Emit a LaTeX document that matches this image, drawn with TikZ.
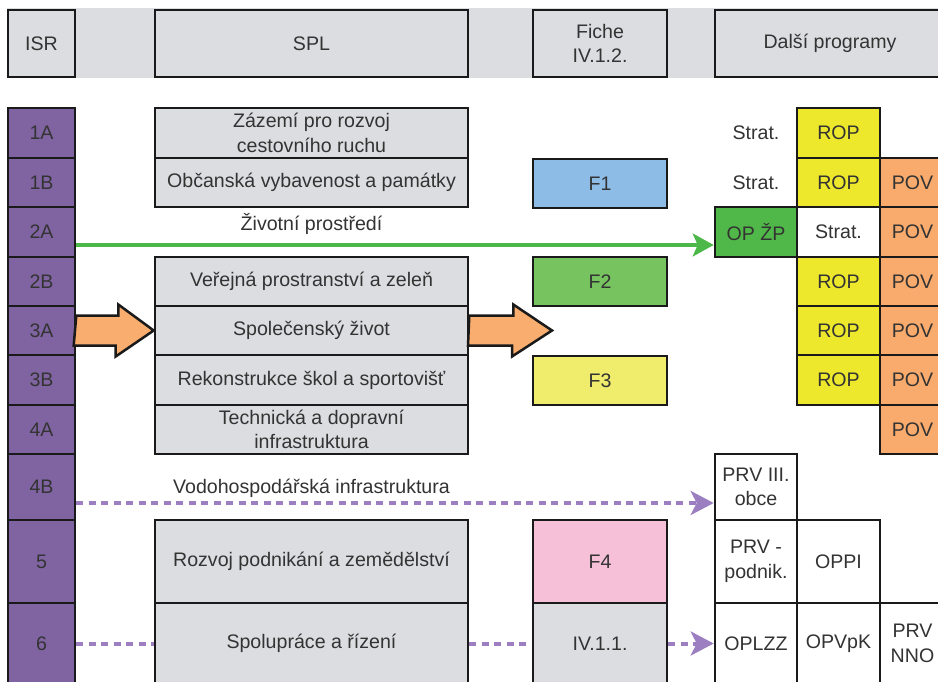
\documentclass[tikz,border=0pt]{standalone}
\usepackage{fontspec}
\setmainfont{Liberation Sans}
\usetikzlibrary{arrows.meta,calc}

\definecolor{bandgray}{HTML}{DCDDE0}
\definecolor{boxgray}{HTML}{DCDDE0}
\definecolor{edge}{HTML}{1A1A1A}
\definecolor{ink}{HTML}{333333}
\definecolor{isrpurple}{HTML}{8064A2}
\definecolor{ropyellow}{HTML}{EDE82B}
\definecolor{povorange}{HTML}{F8AB6C}
\definecolor{opzpgreen}{HTML}{50B848}
\definecolor{fblue}{HTML}{8DBDE6}
\definecolor{fgreen}{HTML}{77C360}
\definecolor{fyellow}{HTML}{F0EC6C}
\definecolor{fpink}{HTML}{F5C0D8}
\definecolor{linkgreen}{HTML}{4CB849}
\definecolor{linkpurple}{HTML}{9B7FC0}
\definecolor{blockorange}{HTML}{F9AE6F}

% cell: name, x1, y1, x2, y2, style, text
\newcommand\cellbox[7]{%
  \node[#6, minimum width={#4-#2}, minimum height={#5-#3}] (#1)
    at ({(#2+#4)/2},{(#3+#5)/2}) {#7};}

\begin{document}
\begin{tikzpicture}[x=1pt,y=-1pt,
  every node/.style={font=\fontsize{19.6}{24.5}\selectfont, text=ink, inner sep=0pt, align=center},
  cell/.style={draw=edge, line width=2.6pt, rectangle},
  hdr/.style={cell, fill=boxgray},
  isr/.style={cell, fill=isrpurple},
  spl/.style={cell, fill=boxgray},
  rop/.style={cell, fill=ropyellow},
  pov/.style={cell, fill=povorange},
  plain/.style={cell, fill=white},
  freetext/.style={},
  greenlink/.style={draw=linkgreen, line width=3pt,
    -{Stealth[length=21pt,width=23pt,inset=5pt]}},
  dotlink/.style={draw=linkpurple, line width=4pt, dash pattern=on 7pt off 5.5pt},
  dotarrow/.style={dotlink, -{Stealth[length=23pt,width=24pt,inset=6pt]}},
  blockarrow/.style={fill=blockorange, draw=edge, line width=2.5pt, line join=miter}
]
\useasboundingbox (0,0) rectangle (938,682);

% header band
\fill[bandgray] (7,8) rectangle (945,78);
\cellbox{hISR}{8}{10}{75}{77}{hdr}{ISR}
\cellbox{hSPL}{155}{10}{468}{77}{hdr}{SPL}
\cellbox{hFiche}{533}{10}{667}{77}{hdr}{Fiche\\IV.1.2.}
\cellbox{hDalsi}{715}{10}{945}{77}{hdr}{Další programy}

% ISR column
\cellbox{isr1A}{8}{108}{75}{158}{isr}{1A}
\cellbox{isr1B}{8}{158}{75}{207}{isr}{1B}
\cellbox{isr2A}{8}{207}{75}{257}{isr}{2A}
\cellbox{isr2B}{8}{257}{75}{306}{isr}{2B}
\cellbox{isr3A}{8}{306}{75}{355}{isr}{3A}
\cellbox{isr3B}{8}{355}{75}{405}{isr}{3B}
\cellbox{isr4A}{8}{405}{75}{454}{isr}{4A}
\cellbox{isr4B}{8}{454}{75}{520}{isr}{4B}
\cellbox{isr5}{8}{520}{75}{603}{isr}{5}
\cellbox{isr6}{8}{603}{75}{684}{isr}{6}

% SPL column
\cellbox{spl1A}{155}{108}{468}{158}{spl}{Zázemí pro rozvoj\\cestovního ruchu}
\cellbox{spl1B}{155}{158}{468}{207}{spl}{Občanská vybavenost a památky}
\cellbox{spl2B}{155}{257}{468}{306}{spl}{Veřejná prostranství a zeleň}
\cellbox{spl3A}{155}{306}{468}{355}{spl}{Společenský život}
\cellbox{spl3B}{155}{355}{468}{405}{spl}{Rekonstrukce škol a sportovišť}
\cellbox{spl4A}{155}{405}{468}{454}{spl}{Technická a dopravní\\infrastruktura}
\cellbox{spl5}{155}{520}{468}{603}{spl}{Rozvoj podnikání a zemědělství}
\cellbox{spl6}{155}{603}{468}{684}{spl}{Spolupráce a řízení}

% Fiche column
\cellbox{f1}{533}{159}{667}{208}{cell,fill=fblue}{F1}
\cellbox{f2}{533}{257}{667}{306}{cell,fill=fgreen}{F2}
\cellbox{f3}{533}{356}{667}{405}{cell,fill=fyellow}{F3}
\cellbox{f4}{533}{520}{667}{603}{cell,fill=fpink}{F4}
\cellbox{f6}{533}{603}{667}{684}{spl}{IV.1.1.}

% other programmes
\node[freetext] (st1A) at (756,133) {Strat.};
\node[freetext] (st1B) at (756,183) {Strat.};
\cellbox{rop1A}{797}{108}{880}{158}{rop}{ROP}
\cellbox{rop1B}{797}{158}{880}{207}{rop}{ROP}
\cellbox{pov1B}{880}{158}{945}{207}{pov}{POV}
\cellbox{opzp}{715}{207}{797}{257}{cell,fill=opzpgreen}{OP ŽP}
\cellbox{st2A}{797}{207}{880}{257}{plain}{Strat.}
\cellbox{pov2A}{880}{207}{945}{257}{pov}{POV}
\cellbox{rop2B}{797}{257}{880}{306}{rop}{ROP}
\cellbox{pov2B}{880}{257}{945}{306}{pov}{POV}
\cellbox{rop3A}{797}{306}{880}{355}{rop}{ROP}
\cellbox{pov3A}{880}{306}{945}{355}{pov}{POV}
\cellbox{rop3B}{797}{355}{880}{405}{rop}{ROP}
\cellbox{pov3B}{880}{355}{945}{405}{pov}{POV}
\cellbox{pov4A}{880}{405}{945}{454}{pov}{POV}
\cellbox{prv3}{715}{454}{797}{520}{plain}{PRV III.\\obce}
\cellbox{prvp}{715}{520}{797}{603}{plain}{PRV -\\podnik.}
\cellbox{oppi}{797}{520}{880}{603}{plain}{OPPI}
\cellbox{oplzz}{715}{603}{797}{684}{plain}{OPLZZ}
\cellbox{opvpk}{797}{603}{880}{684}{plain}{OPVpK}
\cellbox{prvnno}{880}{603}{945}{684}{plain}{PRV\\NNO}

% environment link
\node[freetext] (lzp) at (311.5,224) {Životní prostředí};
\draw[greenlink] ([yshift=-13pt]isr2A.east) -- ([yshift=-13pt]opzp.west);

% water management link
\node[freetext] (lvh) at (311.5,488) {Vodohospodářská infrastruktura};
\draw[dotarrow] ([yshift=-16pt]isr4B.east) -- ([yshift=-16pt]prv3.west);

% cooperation link
\draw[dotlink] (isr6.east) -- (spl6.west);
\draw[dotlink] (spl6.east) -- (f6.west);
\draw[dotarrow] (f6.east) -- (oplzz.west);

% block arrows in row 3A
\coordinate (tip2) at (552,330.5);
\draw[blockarrow] (isr3A.east) ++(0,-15) -- ++(42,0) -- ++(0,-11)
  -- (spl3A.west) -- ++(-38,26) -- ++(0,-11) -- ++(-42,0) -- cycle;
\draw[blockarrow] (spl3A.east) ++(0,-15) -- ++(44,0) -- ++(0,-11)
  -- (tip2) -- ++(-40,26) -- ++(0,-11) -- ++(-44,0) -- cycle;
\end{tikzpicture}
\end{document}
